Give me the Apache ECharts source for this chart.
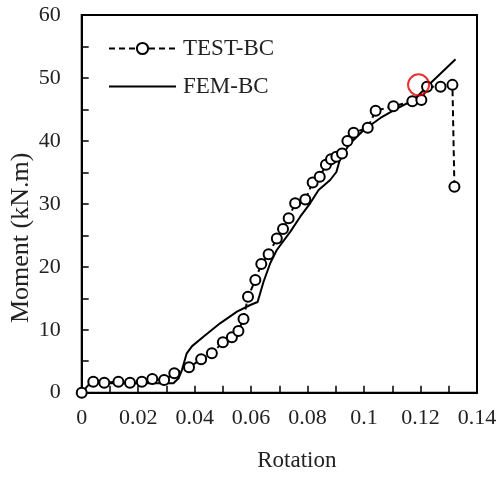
<!DOCTYPE html>
<html>
<head>
<meta charset="utf-8">
<script src="https://cdn.jsdelivr.net/npm/echarts@6/dist/echarts.min.js"></script>
<style>
html,body{margin:0;padding:0;background:#fff;}
#c{width:498px;height:477px;}
</style>
</head>
<body>
<div id="c"></div>
<script>
// Test data (TEST-BC)
var testX = [0, 0.0041, 0.0080, 0.0130, 0.0171, 0.0213, 0.0250, 0.0292, 0.0328, 0.0380, 0.0423, 0.0461, 0.0500, 0.0532, 0.0555, 0.0573, 0.0589, 0.0615, 0.0636, 0.0662, 0.0691, 0.0713, 0.0733, 0.0756, 0.0792, 0.0818, 0.0843, 0.0865, 0.0883, 0.0902, 0.0922, 0.0941, 0.0963, 0.1013, 0.1041, 0.1104, 0.1171, 0.1203, 0.1223, 0.1271, 0.1313, 0.1320];
var testY = [0, 1.75, 1.59, 1.75, 1.59, 1.75, 2.17, 2.0, 3.08, 4.04, 5.31, 6.27, 8.0, 8.8, 9.8, 11.7, 15.25, 17.9, 20.45, 22.0, 24.5, 26.0, 27.7, 30.1, 30.7, 33.4, 34.3, 36.2, 37.1, 37.5, 38.0, 40.0, 41.3, 42.1, 44.8, 45.5, 46.3, 46.5, 48.6, 48.6, 48.9, 32.7];
// FEM data (FEM-BC)
var femX = [0, 0.0029, 0.0325, 0.0343, 0.0355, 0.0372, 0.0391, 0.0431, 0.0490, 0.0550, 0.0597, 0.0623, 0.0644, 0.0668, 0.0691, 0.0739, 0.0774, 0.0809, 0.0839, 0.0880, 0.0902, 0.0916, 0.0951, 0.0999, 0.1058, 0.1117, 0.1176, 0.1235, 0.1324];
var femY = [0, 1.49, 1.49, 2.29, 3.6, 6.26, 7.4, 8.9, 11.02, 12.87, 13.93, 14.4, 17.63, 20.6, 22.67, 25.58, 27.96, 30.09, 32.2, 33.79, 35.06, 37.28, 39.62, 41.73, 43.64, 45.18, 46.5, 49.15, 52.96];
// Highlighted point (red circle)
var highlightX = [0.1193];
var highlightY = [48.9];

var seriesNames = ['TEST-BC', 'FEM-BC'];
var xTitle = 'Rotation';
var yTitle = 'Moment (kN.m)';

function zip(a, b) { return a.map(function (v, i) { return [v, b[i]]; }); }

var chart = echarts.init(document.getElementById('c'), null, {renderer: 'canvas'});
var font = 'Liberation Serif, Times New Roman, serif';
chart.setOption({
  animation: false,
  backgroundColor: '#fff',
  textStyle: {fontFamily: font},
  grid: {left: 81.7, top: 15, right: 21, bottom: 84.3, containLabel: false, outerBoundsMode: 'none',
         show: true, borderColor: '#000', borderWidth: 2, backgroundColor: 'transparent'},
  legend: {
    data: [
      {name: seriesNames[0]},
      {name: seriesNames[1], itemStyle: {color: 'rgba(0,0,0,0)', borderColor: 'rgba(0,0,0,0)', borderWidth: 0, opacity: 0}}
    ],
    orient: 'vertical',
    left: 103, top: 32,
    itemWidth: 67, itemHeight: 14, itemGap: 15,
    textStyle: {fontFamily: font, fontSize: 23, color: '#222', lineHeight: 23, padding: [0, 0, 0, 2]}
  },
  xAxis: {
    type: 'value', min: 0, max: 0.14, interval: 0.01,
    name: xTitle, nameLocation: 'middle', nameGap: 57, nameMoveOverlap: false,
    nameTextStyle: {fontFamily: font, fontSize: 23, color: '#222', padding: [0, 0, 0, 35]},
    axisLine: {show: true, lineStyle: {color: '#000', width: 2}},
    axisTick: {show: true, inside: true, length: 7, lineStyle: {color: '#000', width: 1.5}},
    axisLabel: {
      fontFamily: font, fontSize: 22, color: '#222', margin: 15, hideOverlap: false,
      formatter: function (v) { return Math.round(v * 100) % 2 === 0 ? String(+v.toFixed(2)) : ''; }
    },
    splitLine: {show: false}
  },
  yAxis: {
    type: 'value', min: 0, max: 60, interval: 5,
    name: yTitle, nameLocation: 'middle', nameGap: 48, nameMoveOverlap: false,
    nameTextStyle: {fontFamily: font, fontSize: 26, color: '#222', padding: [0, 68, 0, 0]},
    axisLine: {show: true, lineStyle: {color: '#000', width: 2}},
    axisTick: {show: true, inside: true, length: 7, lineStyle: {color: '#000', width: 1.5}},
    axisLabel: {
      fontFamily: font, fontSize: 22, color: '#222', margin: 21,
      formatter: function (v) { return v % 10 === 0 ? String(v) : ''; }
    },
    splitLine: {show: false}
  },
  series: [
    {
      name: seriesNames[0], type: 'line', data: zip(testX, testY),
      symbol: 'circle', symbolSize: 10, showAllSymbol: true,
      lineStyle: {color: '#000', width: 2, type: [6, 4]},
      itemStyle: {color: '#fff', borderColor: '#000', borderWidth: 2},
      z: 3
    },
    {
      name: seriesNames[1], type: 'line', data: zip(femX, femY),
      symbol: 'none',
      lineStyle: {color: '#000', width: 2},
      itemStyle: {color: '#000'},
      z: 2
    },
    {
      name: 'highlight', type: 'scatter', data: zip(highlightX, highlightY),
      symbol: 'circle', symbolSize: 21,
      itemStyle: {color: 'transparent', borderColor: '#e00000', borderWidth: 2},
      z: 4
    }
  ]
});
</script>
</body>
</html>
